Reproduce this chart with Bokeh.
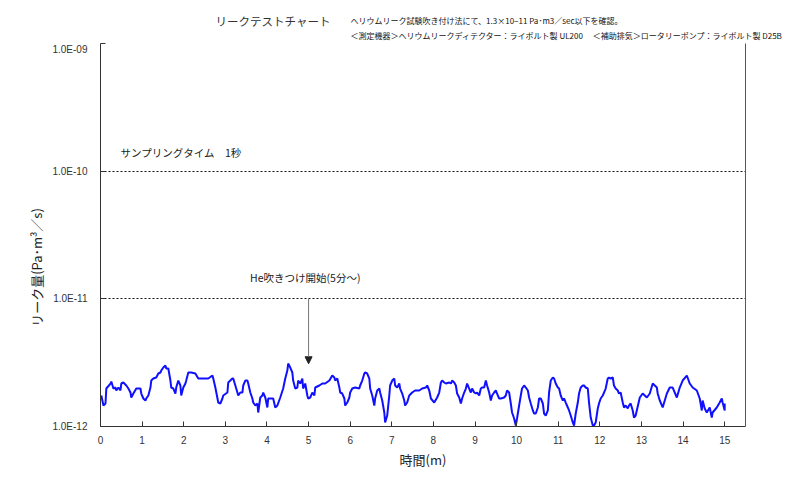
from bokeh.plotting import figure
from bokeh.models import (Range1d, FixedTicker, CustomJSTickFormatter, Label, Arrow,
                          NormalHead, LinearAxis, ColumnDataSource)
from bokeh.embed import file_html
from bokeh.resources import INLINE

# time (minutes)
time_min = [0.02, 0.07, 0.12, 0.14, 0.24, 0.26, 0.31, 0.36, 0.38, 0.43, 0.48, 0.50, 0.55, 0.62, 0.67, 0.72, 0.74, 0.79, 0.86, 0.96,
            0.98, 1.03, 1.08, 1.10, 1.15, 1.20, 1.22, 1.27, 1.34, 1.39, 1.44, 1.46, 1.51, 1.56, 1.58, 1.63, 1.68, 1.70, 1.75, 1.80,
            1.82, 1.87, 1.92, 1.94, 1.99, 2.04, 2.06, 2.11, 2.18, 2.28, 2.35, 2.42, 2.52, 2.59,
            2.69, 2.71, 2.76, 2.83, 2.88, 2.93, 2.95, 3.05, 3.07, 3.17, 3.19, 3.24, 3.29, 3.31, 3.36, 3.41, 3.43, 3.48, 3.53, 3.55,
            3.60, 3.65, 3.67, 3.72, 3.77, 3.79, 3.84, 3.89, 3.91, 3.96, 4.01, 4.03, 4.08, 4.15, 4.20, 4.25, 4.32, 4.39, 4.44, 4.49,
            4.51, 4.56, 4.61, 4.63, 4.68, 4.73, 4.75, 4.80, 4.85, 4.87, 4.92, 4.97, 4.99, 5.04, 5.09,
            5.14, 5.16, 5.26, 5.33, 5.40, 5.50, 5.57, 5.62, 5.64, 5.69, 5.74, 5.76, 5.81, 5.86, 5.88, 5.93, 5.98, 6.00, 6.05, 6.12,
            6.22, 6.24, 6.29, 6.34, 6.36, 6.41, 6.46, 6.48, 6.53, 6.58, 6.60, 6.65, 6.70, 6.72, 6.77, 6.82, 6.84, 6.89, 6.94, 6.96,
            7.01, 7.06, 7.08, 7.13, 7.18, 7.20, 7.25, 7.30, 7.32, 7.37, 7.42, 7.49, 7.56, 7.66,
            7.73, 7.82, 7.85, 7.90, 7.94, 8.02, 8.09, 8.14, 8.18, 8.21, 8.26, 8.30, 8.38, 8.42, 8.45, 8.50, 8.54, 8.57, 8.62, 8.66,
            8.69, 8.74, 8.78, 8.81, 8.86, 8.90, 8.93, 8.98, 9.02, 9.05, 9.10, 9.14, 9.17, 9.22, 9.26, 9.29, 9.34, 9.38, 9.41, 9.46,
            9.50, 9.53, 9.58, 9.62, 9.70, 9.74, 9.77, 9.82, 9.86, 9.89, 9.94, 9.98, 10.01, 10.06, 10.10, 10.13, 10.18, 10.22,
            10.27, 10.30, 10.34, 10.39, 10.42, 10.46, 10.51, 10.54, 10.58, 10.63, 10.66, 10.70, 10.75, 10.78, 10.82, 10.87, 10.90,
            10.94, 10.99, 11.02, 11.06, 11.11, 11.14, 11.18, 11.23, 11.26, 11.30, 11.35, 11.38, 11.42, 11.47, 11.50, 11.54, 11.59,
            11.62, 11.66, 11.71, 11.74, 11.78, 11.83, 11.86, 11.90, 11.95, 11.98, 12.02, 12.07, 12.10, 12.14, 12.19, 12.22, 12.26,
            12.31, 12.34, 12.38, 12.43, 12.46, 12.50, 12.55, 12.58, 12.62, 12.67, 12.70, 12.74, 12.79, 12.82, 12.86,
            12.96, 13.03, 13.13, 13.20, 13.27, 13.37, 13.39, 13.44, 13.51, 13.61, 13.68, 13.75, 13.85, 13.92, 13.99, 14.09, 14.16,
            14.23, 14.33, 14.40, 14.45, 14.47, 14.52, 14.57, 14.64, 14.69, 14.71, 14.81, 14.88, 14.93, 14.95, 15.00, 15.00]

# leak rate, in units of 1e-12 Pa*m3/s
leak_e12 = [1.749, 1.460, 1.514, 1.984, 2.171, 2.251, 1.984, 2.020, 1.914, 2.020, 1.914, 2.171, 2.211, 2.095, 1.984, 1.846, 1.687, 1.813, 1.984, 1.984,
            1.813, 1.657, 1.598, 1.657, 1.749, 2.020, 2.292, 2.376, 2.419, 2.600, 2.648, 2.745, 2.897, 3.004, 2.846, 2.846, 2.292, 2.020, 1.984, 1.813,
            2.020, 2.292, 2.095, 1.749, 2.020, 2.171, 2.292, 2.648, 2.648, 2.600, 2.376, 2.376, 2.376, 2.376,
            2.508, 2.376, 2.020, 1.541, 1.514, 1.657, 1.749, 1.846, 2.211, 2.376, 2.376, 2.095, 1.846, 1.749, 1.846, 1.846, 2.095, 2.292, 2.292, 2.171,
            1.846, 1.657, 1.541, 1.460, 1.514, 1.287, 1.687, 1.749, 1.846, 1.687, 1.409, 1.657, 1.657, 1.657, 1.409, 1.460, 1.687, 1.984, 2.376, 2.745,
            3.114, 2.897, 2.648, 2.292, 1.984, 2.020, 2.292, 2.171, 2.376, 1.984, 2.171, 1.749, 1.657, 1.687, 1.846,
            1.749, 2.020, 2.095, 2.171, 2.171, 2.292, 2.508, 2.419, 2.292, 2.376, 2.020, 1.846, 1.813, 1.657, 1.460, 1.541, 1.687, 1.846, 1.984, 2.020,
            1.984, 2.095, 2.292, 2.600, 2.648, 2.600, 2.376, 1.984, 1.749, 1.460, 1.657, 1.914, 1.984, 1.846, 1.598, 1.287, 1.075, 1.219, 1.749, 2.095,
            2.292, 2.376, 2.095, 2.020, 2.171, 1.984, 1.813, 1.598, 1.460, 1.541, 1.749, 1.846, 1.914, 1.914,
            1.984, 2.020, 2.095, 1.914, 1.657, 1.541, 1.687, 1.846, 2.211, 2.292, 2.211, 2.171, 2.211, 2.171, 2.292, 2.211, 2.095, 1.813, 1.687, 1.514,
            1.657, 1.846, 1.984, 2.171, 1.984, 1.846, 1.984, 1.846, 1.813, 1.846, 1.749, 1.984, 2.020, 2.020, 2.292, 2.095, 1.846, 1.598, 1.749, 1.846,
            1.914, 1.813, 1.657, 1.657, 1.687, 1.749, 1.914, 1.846, 1.514, 1.287, 1.155, 1.018, 1.155, 1.460, 1.749, 1.984, 2.095, 2.020,
            1.914, 1.687, 1.514, 1.335, 1.264, 1.264, 1.409, 1.657, 1.657, 1.514, 1.264, 1.219, 1.335, 1.846, 2.292, 2.419, 2.376,
            2.171, 2.020, 1.984, 1.749, 1.598, 1.657, 1.541, 1.409, 1.335, 1.219, 1.075, 1.018, 1.264, 1.541, 1.813, 2.020, 2.095,
            2.095, 2.020, 1.984, 1.541, 1.176, 1.018, 1.018, 1.075, 1.384, 1.514, 1.657, 1.749, 1.846, 1.984, 2.376, 2.419, 2.376,
            2.419, 2.095, 1.984, 1.914, 1.813, 1.846, 1.541, 1.409, 1.460, 1.384, 1.460, 1.514, 1.335, 1.176, 1.219,
            1.687, 1.813, 1.687, 1.813, 2.171, 2.020, 1.813, 1.598, 1.409, 1.813, 2.020, 2.020, 1.687, 2.020, 2.292, 2.508, 2.171,
            2.020, 1.914, 1.657, 1.335, 1.598, 1.384, 1.287, 1.409, 1.176, 1.287, 1.409, 1.541, 1.657, 1.541, 1.335, 1.514]

leak = [v * 1e-12 for v in leak_e12]

x_ticks = list(range(0, 16))
y_ticks = [1e-12, 1e-11, 1e-10, 1e-9]

title_text = "リークテストチャート"
note_line1 = "ヘリウムリーク試験吹き付け法にて、1.3×10−11 Pa･m3／sec以下を確認。"
note_line2 = "＜測定機器＞ヘリウムリークディテクター：ライボルト製  UL200　 ＜補助排気＞ロータリーポンプ：ライボルト製  D25B"

JP = "Noto Sans CJK JP"
NUM = "Liberation Sans"

W = 784
HEAD_H = 43

# ---- header (title + notes), a separate root so its frame spans the full width ----
head = figure(width=W, height=HEAD_H, output_backend="svg", toolbar_location=None,
              x_range=Range1d(0, W), y_range=Range1d(0, HEAD_H),
              min_border=0, min_border_left=0, min_border_right=0, min_border_top=0, min_border_bottom=0)
head.axis.visible = False
head.grid.visible = False
head.outline_line_color = None
head.background_fill_color = "white"
head.border_fill_color = "white"
head.add_layout(Label(x=215, y=23, text=title_text, text_font=JP, text_font_size="11.5px",
                      text_color="#333333", text_baseline="middle"))
head.add_layout(Label(x=350, y=23, text=note_line1, text_font=JP, text_font_size="8px",
                      text_color="#111111", text_baseline="middle"))
head.add_layout(Label(x=350, y=8, text=note_line2, text_font=JP, text_font_size="8px",
                      text_color="#111111", text_baseline="middle"))

# ---- main chart ----
p = figure(frame_width=645, frame_height=383, output_backend="svg", toolbar_location=None,
           y_axis_type="log", x_range=Range1d(0, 15.5), y_range=Range1d(1e-12, 1e-9),
           min_border_left=100, min_border_right=39, min_border_top=0, min_border_bottom=20)
p.outline_line_color = None
p.background_fill_color = "white"
p.border_fill_color = "white"

src = ColumnDataSource(dict(t=time_min, v=leak))
p.line("t", "v", source=src, line_color="#1010ff", line_width=2)

p.xaxis.ticker = FixedTicker(ticks=x_ticks)
p.xaxis.axis_label = "時間(m)"
p.yaxis.ticker = FixedTicker(ticks=y_ticks, minor_ticks=[])
p.yaxis.formatter = CustomJSTickFormatter(code="""
const e = Math.round(Math.log10(tick));
const s = Math.abs(e).toString().padStart(2, '0');
return "1.0E" + (e < 0 ? "-" : "+") + s;
""")
p.yaxis.axis_label = "リーク量(Pa･m³／s)" + "\u3000" * 5
for ax in (p.xaxis[0], p.yaxis[0]):
    ax.axis_line_color = "#333333"
    ax.axis_line_width = 1
    ax.major_tick_line_color = "#333333"
    ax.major_tick_in = 5
    ax.major_tick_out = 0
    ax.minor_tick_line_color = None
    ax.major_label_text_font = NUM
    ax.major_label_text_font_size = "10px"
    ax.major_label_text_color = "#333333"
    ax.axis_label_text_font = JP
    ax.axis_label_text_font_style = "normal"
    ax.axis_label_text_font_size = "13px"
    ax.axis_label_text_color = "#222222"
p.xaxis.major_label_standoff = 9
p.xaxis.axis_label_standoff = 3
p.yaxis.major_label_standoff = 13
p.yaxis.axis_label_standoff = 3

right = LinearAxis(ticker=FixedTicker(ticks=[]), major_label_text_font_size="0px",
                   axis_line_color="#555555", minor_tick_line_color=None, major_tick_line_color=None)
p.add_layout(right, "right")

p.xgrid.grid_line_color = None
p.ygrid.grid_line_color = "#111111"
p.ygrid.grid_line_dash = "2 2"
p.ygrid.grid_line_width = 1

p.add_layout(Label(x=0.48, y=1.40e-10, text="サンプリングタイム　1秒", text_font=JP,
                   text_font_size="10.5px", text_color="#222222", text_baseline="middle"))
p.add_layout(Label(x=4.92, y=1.47e-11, text="He吹きつけ開始(5分〜)", text_font=JP,
                   text_font_size="10.5px", text_color="#222222", text_baseline="middle", text_align="center"))
p.add_layout(Arrow(x_start=5, y_start=1e-11, x_end=5, y_end=3.1e-12, line_color="#777777", line_width=1,
                   end=NormalHead(size=7, fill_color="#222222", line_color="#222222")))

open("out.html", "w").write(file_html([head, p], INLINE))
